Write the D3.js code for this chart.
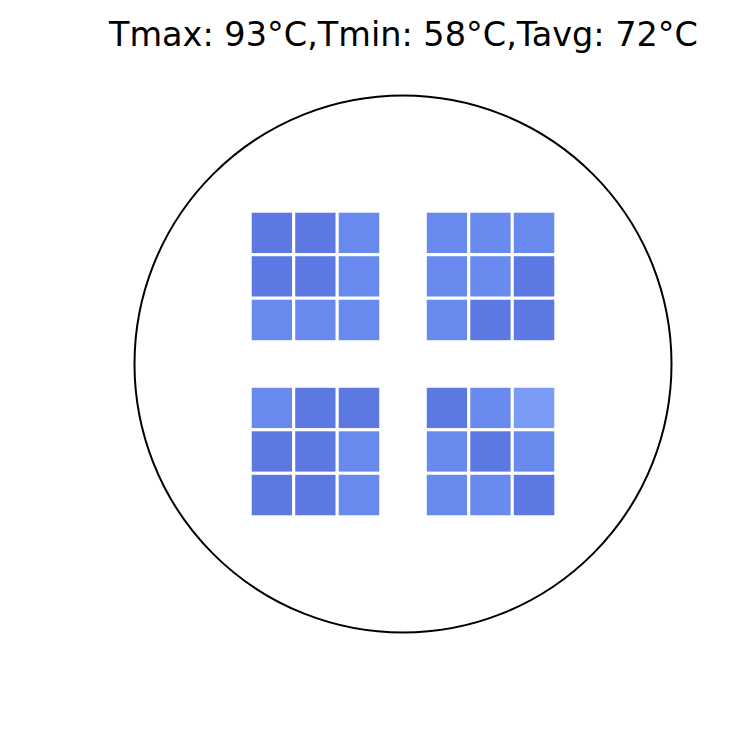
<!DOCTYPE html>
<html><head><meta charset="utf-8">
<script src="https://cdn.jsdelivr.net/npm/d3@7"></script>
<style>body{margin:0;background:#fff}svg{display:block}</style>
</head><body>
<svg id="c" width="729" height="734"></svg>
<script>
const titleText = "Tmax: 93°C,Tmin: 58°C,Tavg: 72°C";
const groups = ["NW", "NE", "SW", "SE"];
const groupCol = [0, 1, 0, 1];
const groupRow = [0, 0, 1, 1];
// cell temperatures per group, row-major 3x3
const cellsNW = [60, 60, 65, 60, 60, 65, 65, 65, 65];
const cellsNE = [65, 65, 65, 65, 65, 60, 65, 60, 60];
const cellsSW = [65, 60, 60, 60, 60, 65, 60, 60, 65];
const cellsSE = [60, 65, 70, 65, 60, 65, 65, 65, 60];
const cellValues = [cellsNW, cellsNE, cellsSW, cellsSE];

const svg = d3.select("#c");
const cx = 403, cy = 364, R = 268.5;
const x = d3.scaleLinear().domain([-1, 1]).range([cx - R, cx + R]);
const y = d3.scaleLinear().domain([-1, 1]).range([cy - R, cy + R]);
const color = d3.scaleLinear().domain([60, 65, 70]).range(["#5b78e3", "#6889ee", "#7a9bf6"]);

const groupPos = d3.scaleBand().domain([0, 1]).range([-0.569, 0.569]).paddingInner(0.2546);
const bw = groupPos.bandwidth();

svg.append("text").attr("x", 403.5).attr("y", 46).attr("text-anchor", "middle")
  .attr("font-family", "DejaVu Sans").attr("font-size", 33.5).attr("fill", "#000").text(titleText);

svg.append("circle").attr("cx", x(0)).attr("cy", y(0)).attr("r", x(1) - x(0))
  .attr("fill", "none").attr("stroke", "#000").attr("stroke-width", 2);

groups.forEach((g, gi) => {
  const gx = x(groupPos(groupCol[gi]));
  const gy = y(groupPos(groupRow[gi]));
  const w = x(groupPos(groupCol[gi]) + bw) - gx;
  const cell = d3.scaleBand().domain([0, 1, 2]).range([0, w]);
  svg.append("g").selectAll("rect").data(cellValues[gi]).join("rect")
    .attr("x", (d, i) => gx + cell(i % 3))
    .attr("y", (d, i) => gy + cell(Math.floor(i / 3)))
    .attr("width", cell.bandwidth()).attr("height", cell.bandwidth())
    .attr("fill", d => color(d)).attr("stroke", "#fff").attr("stroke-width", 3);
});
</script>
</body></html>
